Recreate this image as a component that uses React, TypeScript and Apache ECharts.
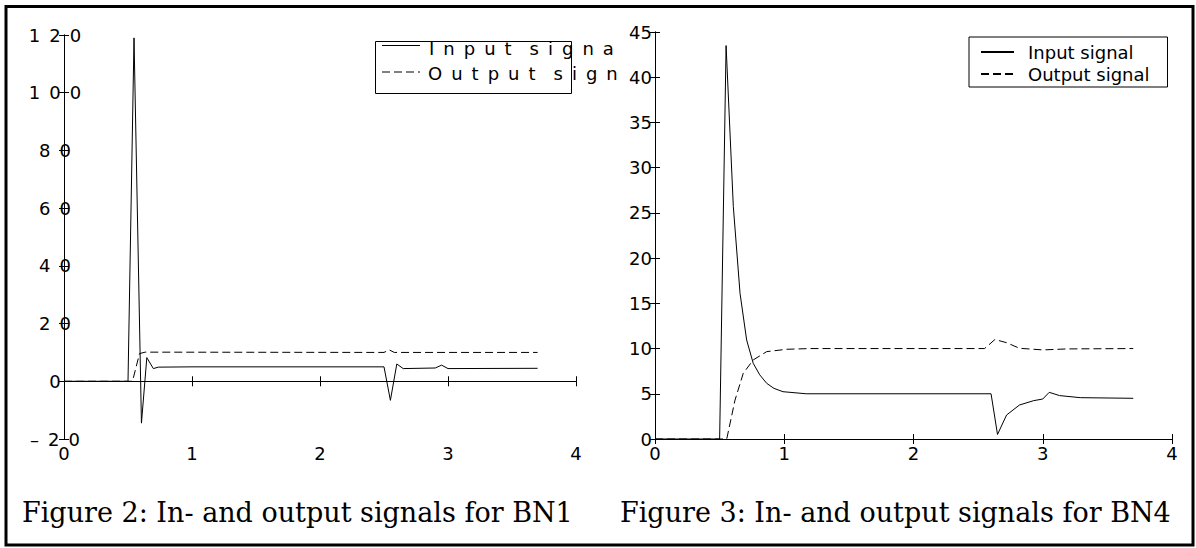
import React, { useEffect, useRef } from "react";
import * as echarts from "echarts";

// ---- data ----
const bn1InTime = [0, 0.5, 0.547, 0.605, 0.647, 0.698, 0.737, 1.0, 2.5, 2.55, 2.6, 2.65, 2.9, 2.95, 3.0, 3.7];
const bn1Input = [0, 0, 119, -14.5, 8.2, 4.4, 4.9, 5.0, 5.0, -6.6, 6.0, 4.4, 4.6, 5.6, 4.4, 4.5];
const bn1OutTime = [0, 0.535, 0.59, 0.635, 2.5, 2.54, 2.58, 3.7];
const bn1Output = [0, 0, 9.6, 10.1, 10.0, 10.9, 10.0, 10.0];

const bn4InTime = [0, 0.5, 0.55, 0.606, 0.658, 0.709, 0.76, 0.81, 0.864, 0.92, 0.99, 1.17, 2.6, 2.65, 2.72, 2.82, 2.93, 3.0, 3.05, 3.13, 3.29, 3.7];
const bn4Input = [0, 0, 43.5, 25.7, 16.1, 10.95, 8.37, 7.1, 6.16, 5.6, 5.23, 5.0, 5.0, 0.5, 2.65, 3.76, 4.24, 4.42, 5.16, 4.8, 4.57, 4.5];
const bn4OutTime = [0, 0.555, 0.619, 0.683, 0.76, 0.864, 1.02, 1.2, 2.55, 2.63, 2.72, 2.82, 3.0, 3.19, 3.7];
const bn4Output = [0, 0, 4.3, 7.27, 8.74, 9.66, 9.92, 10.0, 10.0, 11.0, 10.65, 10.03, 9.85, 9.96, 10.0];

const legendNames = ["Input signal", "Output signal"];
const leftLegendVisible = ["Input signa", "Output sign"];
const captions = ["Figure 2: In- and output signals for BN1", "Figure 3: In- and output signals for BN4"];

const SANS = '"DejaVu Sans", sans-serif';
const SERIF = '"DejaVu Serif", serif';
const EN = "\u2002";

const spread = (s: string) => s.split(" ").map((w) => w.split("").join(EN)).join(EN + EN);
const pairs = (xs: number[], ys: number[]) => xs.map((x, i) => [x, ys[i]]);

const solid = { color: "#000", width: 1, type: "solid" as const };
const dashed = { color: "#000", width: 1, type: [8, 4] as any };

function boxAxes(gridIndex: number, min: number, max: number, interval: number, leftFormatter: any, leftAlign: string, leftMargin: number) {
  const tick = { show: true, inside: true, length: 5, lineStyle: { color: "#000", width: 1 } };
  const line = { show: true, lineStyle: { color: "#000", width: 1 } };
  const xAxes = [
    {
      type: "value", gridIndex, min: 0, max: 4, interval: 1, position: "bottom",
      axisLine: line, axisTick: tick, splitLine: { show: false },
      axisLabel: { show: true, color: "#000", fontFamily: SANS, fontSize: 18, margin: 5 },
    },
    {
      type: "value", gridIndex, min: 0, max: 4, interval: 1, position: "top",
      axisLine: line, axisTick: tick, splitLine: { show: false }, axisLabel: { show: false },
    },
  ];
  const yAxes = [
    {
      type: "value", gridIndex, min, max, interval, position: "left",
      axisLine: line, axisTick: tick, splitLine: { show: false },
      axisLabel: { show: true, color: "#000", fontFamily: SANS, fontSize: 18, margin: leftMargin, align: leftAlign, formatter: leftFormatter },
    },
    {
      type: "value", gridIndex, min, max, interval, position: "right",
      axisLine: line, axisTick: tick, splitLine: { show: false }, axisLabel: { show: false },
    },
  ];
  return { xAxes, yAxes };
}

export default function App() {
  const ref = useRef<HTMLDivElement>(null);
  useEffect(() => {
    if (!ref.current) return;
    const chart = echarts.init(ref.current, null, { renderer: "svg" });
    const left = boxAxes(0, -20, 120, 20, (v: number) => String(v).replace("-", "\u2013").split("").join(EN), "center", 9);
    const right = boxAxes(1, 0, 45, 5, (v: number) => String(v), "right", 3);
    chart.setOption({
      animation: false,
      backgroundColor: "#fff",
      grid: [
        { left: 64, top: 35, width: 512, height: 404 },
        { left: 655, top: 32, width: 517, height: 407 },
      ],
      xAxis: [...left.xAxes, ...right.xAxes],
      yAxis: [...left.yAxes, ...right.yAxes],
      legend: {
        data: legendNames,
        left: 969,
        top: 37,
        orient: "vertical",
        backgroundColor: "#fff",
        borderColor: "#000",
        borderWidth: 1,
        borderRadius: 0,
        padding: [6, 18, 4, 11],
        itemWidth: 33,
        itemHeight: 14,
        itemGap: 4,
        selectedMode: false,
        itemStyle: { color: "rgba(0,0,0,0)", borderWidth: 0, opacity: 0 },
        textStyle: { color: "#000", fontFamily: SANS, fontSize: 18, lineHeight: 18, padding: [0, 0, 0, 9] },
      },
      series: [
        { name: "BN1 input", type: "line", xAxisIndex: 0, yAxisIndex: 0, data: pairs(bn1InTime, bn1Input), symbol: "none", lineStyle: solid },
        { name: "BN1 output", type: "line", xAxisIndex: 0, yAxisIndex: 0, data: pairs(bn1OutTime, bn1Output), symbol: "none", lineStyle: dashed },
        { name: legendNames[0], type: "line", xAxisIndex: 2, yAxisIndex: 2, data: pairs(bn4InTime, bn4Input), symbol: "none", lineStyle: solid, itemStyle: { color: "#000" } },
        { name: legendNames[1], type: "line", xAxisIndex: 2, yAxisIndex: 2, data: pairs(bn4OutTime, bn4Output), symbol: "none", lineStyle: dashed, itemStyle: { color: "#000" } },
      ],
      graphic: [
        // outer frame
        { type: "rect", shape: { x: 6, y: 6.5, width: 1187, height: 538.5 }, style: { fill: "none", stroke: "#000", lineWidth: 3 }, z: 10 },
        // left legend box
        { type: "rect", shape: { x: 375.5, y: 41.5, width: 196, height: 52 }, style: { fill: "#fff", stroke: "#000", lineWidth: 1 }, z: 10 },
        { type: "line", shape: { x1: 382, y1: 45.5, x2: 420, y2: 45.5 }, style: { stroke: "#000", lineWidth: 1 }, z: 11 },
        { type: "line", shape: { x1: 382, y1: 72, x2: 420, y2: 72 }, style: { stroke: "#000", lineWidth: 1, lineDash: [8, 4] }, z: 11 },
        { type: "text", x: 429, y: 48, style: { text: spread(leftLegendVisible[0]), font: `18px ${SANS}`, fill: "#000", verticalAlign: "middle", align: "left" }, z: 12 },
        { type: "text", x: 428, y: 73, style: { text: spread(leftLegendVisible[1]), font: `18px ${SANS}`, fill: "#000", verticalAlign: "middle", align: "left" }, z: 12 },
        // captions
        { type: "text", x: 22, y: 512, style: { text: captions[0], font: `27px ${SERIF}`, fill: "#000", verticalAlign: "middle", align: "left" }, z: 12 },
        { type: "text", x: 620, y: 512, style: { text: captions[1], font: `27px ${SERIF}`, fill: "#000", verticalAlign: "middle", align: "left" }, z: 12 },
      ],
    });
    return () => chart.dispose();
  }, []);
  return (
    <div
      ref={ref}
      style={{ position: "absolute", left: 0, top: 0, width: 1196, height: 548, background: "#fff" }}
    />
  );
}
